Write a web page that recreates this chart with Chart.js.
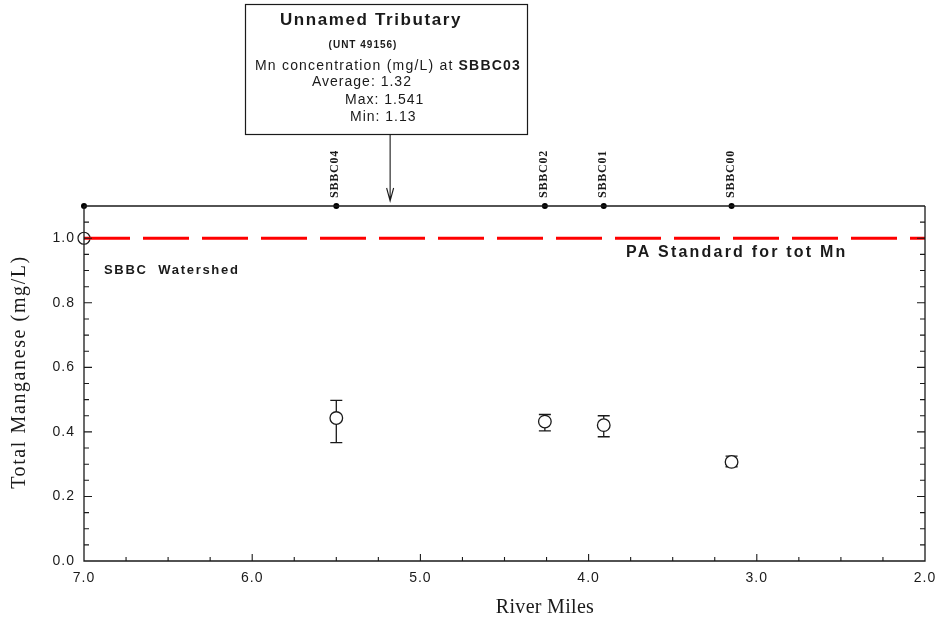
<!DOCTYPE html>
<html>
<head>
<meta charset="utf-8">
<script src="https://cdn.jsdelivr.net/npm/chart.js@4"></script>
<style>
  html, body { margin: 0; padding: 0; background: #fff; }
  canvas { display: block; }
</style>
</head>
<body>
<canvas id="chart" width="936" height="628"></canvas>
<script>
// 采样点 (river miles) 和锰浓度
const stationNames = ['SBBC04', 'SBBC02', 'SBBC01', 'SBBC00'];
const stationMiles = [5.5, 4.26, 3.91, 3.15];
const avgMn = [0.443, 0.432, 0.421, 0.307];
const maxMn = [0.498, 0.454, 0.450, 0.325];
const minMn = [0.367, 0.403, 0.385, 0.292];

const watershedMile = 7.0;     // 顶部轴起点
const tributaryMile = 5.18;    // 支流汇入点 (箭头)
const paStandard = 1.0;

const xTicks = [7, 6, 5, 4, 3, 2];
const yTicks = [0, 0.2, 0.4, 0.6, 0.8, 1.0];
const yTop = 1.1;

const boxLines = [
    'Unnamed Tributary',
    '(UNT 49156)',
    'Mn concentration (mg/L) at ',
    'SBBC03',
    'Average: 1.32',
    'Max: 1.541',
    'Min: 1.13'
];

const SANS = '"Liberation Sans", Arial, sans-serif';
const SERIF = '"Liberation Serif", "Times New Roman", serif';
const INK = '#1a1a1a';

function spacing(ctx, px) {
    if ('letterSpacing' in ctx) ctx.letterSpacing = px + 'px';
}

// 误差线
const errorBars = {
    id: 'errorBars',
    beforeDatasetsDraw(chart) {
        const {ctx, scales: {x, y}} = chart;
        ctx.save();
        ctx.strokeStyle = INK;
        ctx.lineWidth = 1.3;
        stationMiles.forEach((m, i) => {
            const px = x.getPixelForValue(m);
            const top = y.getPixelForValue(maxMn[i]);
            const bot = y.getPixelForValue(minMn[i]);
            ctx.beginPath();
            ctx.moveTo(px, top); ctx.lineTo(px, bot);
            ctx.moveTo(px - 6, top); ctx.lineTo(px + 6, top);
            ctx.moveTo(px - 6, bot); ctx.lineTo(px + 6, bot);
            ctx.stroke();
        });
        ctx.restore();
    }
};

// 边框, 内向刻度, 顶部站点标签和注释框
const frame = {
    id: 'frame',
    beforeDraw(chart) {
        spacing(chart.ctx, 1);
    },
    afterDraw(chart) {
        const {ctx, chartArea: a, scales: {x, y}} = chart;
        ctx.save();
        ctx.strokeStyle = INK;
        ctx.lineWidth = 1.3;
        ctx.beginPath();
        ctx.moveTo(a.left, a.top); ctx.lineTo(a.left, a.bottom);
        ctx.lineTo(a.right, a.bottom); ctx.lineTo(a.right, a.top);
        ctx.stroke();
        ctx.lineWidth = 1.6;
        ctx.beginPath();
        ctx.moveTo(a.left, a.top); ctx.lineTo(a.right, a.top);
        ctx.stroke();

        // y 刻度, 每 0.05 一个, 0.2 为主刻度
        ctx.lineWidth = 1.1;
        ctx.beginPath();
        for (let k = 1; k < 22; k++) {
            const py = y.getPixelForValue(k * 0.05);
            const len = (k % 4 === 0) ? 8 : 5;
            ctx.moveTo(a.left, py); ctx.lineTo(a.left + len, py);
            ctx.moveTo(a.right, py); ctx.lineTo(a.right - len, py);
        }
        // x 刻度, 每 0.25 一个
        for (let k = 1; k < 20; k++) {
            const px = x.getPixelForValue(2 + k * 0.25);
            const len = (k % 4 === 0) ? 7 : 4;
            ctx.moveTo(px, a.bottom); ctx.lineTo(px, a.bottom - len);
        }
        ctx.stroke();

        // 轴标题
        ctx.fillStyle = INK;
        ctx.textAlign = 'center';
        ctx.textBaseline = 'middle';
        ctx.font = '20px ' + SERIF;
        spacing(ctx, 0.3);
        ctx.fillText('River Miles', 545, 608);
        spacing(ctx, 1.6);
        ctx.save();
        ctx.translate(20, 372);
        ctx.rotate(-Math.PI / 2);
        ctx.fillText('Total Manganese (mg/L)', 0, 0);
        ctx.restore();

        // 站点名 (竖排)
        ctx.font = 'bold 12px ' + SERIF;
        spacing(ctx, 0.8);
        ctx.textAlign = 'left';
        stationMiles.forEach((m, i) => {
            ctx.save();
            ctx.translate(x.getPixelForValue(m) - 1, a.top - 8);
            ctx.rotate(-Math.PI / 2);
            ctx.fillText(stationNames[i], 0, 0);
            ctx.restore();
        });

        // 图内文字
        ctx.font = 'bold 13px ' + SANS;
        spacing(ctx, 1.7);
        ctx.fillText('SBBC  Watershed', 104, y.getPixelForValue(0.9) - 0.5);
        ctx.font = 'bold 16px ' + SANS;
        spacing(ctx, 2.2);
        ctx.fillText('PA Standard for tot Mn', 626, y.getPixelForValue(0.955));

        // 注释框
        ctx.lineWidth = 1.2;
        ctx.strokeRect(245.5, 4.5, 282, 130);
        ctx.textAlign = 'center';
        ctx.font = 'bold 17px ' + SANS;
        spacing(ctx, 1.6);
        ctx.fillText(boxLines[0], 371, 20);
        ctx.font = 'bold 10px ' + SANS;
        spacing(ctx, 1);
        ctx.fillText(boxLines[1], 363, 45);
        ctx.textAlign = 'left';
        ctx.font = '14px ' + SANS;
        spacing(ctx, 1.2);
        ctx.fillText(boxLines[2], 255, 66);
        const w = ctx.measureText(boxLines[2]).width;
        ctx.font = 'bold 14px ' + SANS;
        ctx.fillText(boxLines[3], 255 + w, 66);
        ctx.font = '14px ' + SANS;
        spacing(ctx, 1);
        ctx.fillText(boxLines[4], 312, 82);
        ctx.fillText(boxLines[5], 345, 100);
        ctx.fillText(boxLines[6], 350, 117);

        // 箭头
        const ax = x.getPixelForValue(tributaryMile);
        ctx.lineWidth = 1.1;
        ctx.beginPath();
        ctx.moveTo(ax, 134); ctx.lineTo(ax, a.top - 5);
        ctx.moveTo(ax - 3.5, a.top - 18); ctx.lineTo(ax, a.top - 5); ctx.lineTo(ax + 3.5, a.top - 18);
        ctx.stroke();
        ctx.restore();
    }
};

new Chart(document.getElementById('chart'), {
    type: 'scatter',
    data: {
        datasets: [
            {
                type: 'line',
                data: [{x: 7, y: paStandard}, {x: 2, y: paStandard}],
                borderColor: '#ff0000',
                borderWidth: 3,
                borderDash: [46, 13],
                pointRadius: 0,
                clip: false
            },
            {
                data: [{x: watershedMile, y: paStandard}],
                pointRadius: 6,
                pointBackgroundColor: '#fff',
                pointBorderColor: INK,
                pointBorderWidth: 1.2,
                clip: false
            },
            {
                data: stationMiles.map((m, i) => ({x: m, y: avgMn[i]})),
                pointRadius: 6.3,
                pointBackgroundColor: '#fff',
                pointBorderColor: INK,
                pointBorderWidth: 1.3,
                clip: false
            },
            {
                data: [watershedMile].concat(stationMiles).map(m => ({x: m, y: yTop})),
                pointRadius: 3,
                pointBackgroundColor: '#000',
                pointBorderColor: '#000',
                pointBorderWidth: 0,
                clip: false
            }
        ]
    },
    options: {
        responsive: false,
        animation: false,
        layout: {padding: {top: 206, right: 11, left: 0, bottom: 0}},
        plugins: {legend: {display: false}, tooltip: {enabled: false}},
        scales: {
            x: {
                type: 'linear',
                reverse: true,
                min: 2,
                max: 7,
                afterFit: s => { s.height = 67; s.paddingLeft = 0; s.paddingRight = 0; },
                afterBuildTicks: s => { s.ticks = xTicks.map(v => ({value: v})); },
                grid: {display: false, drawTicks: false},
                border: {display: false},
                ticks: {
                    padding: 9,
                    color: INK,
                    font: {family: SANS, size: 14},
                    callback: v => v.toFixed(1)
                }
            },
            y: {
                type: 'linear',
                min: 0,
                max: yTop,
                afterFit: s => { s.width = 84; s.paddingTop = 0; s.paddingBottom = 0; },
                afterBuildTicks: s => { s.ticks = yTicks.map(v => ({value: v})); },
                grid: {display: false, drawTicks: false},
                border: {display: false},
                ticks: {
                    padding: 9,
                    color: INK,
                    font: {family: SANS, size: 14},
                    callback: v => v.toFixed(1)
                }
            }
        }
    },
    plugins: [errorBars, frame]
});
</script>
</body>
</html>
